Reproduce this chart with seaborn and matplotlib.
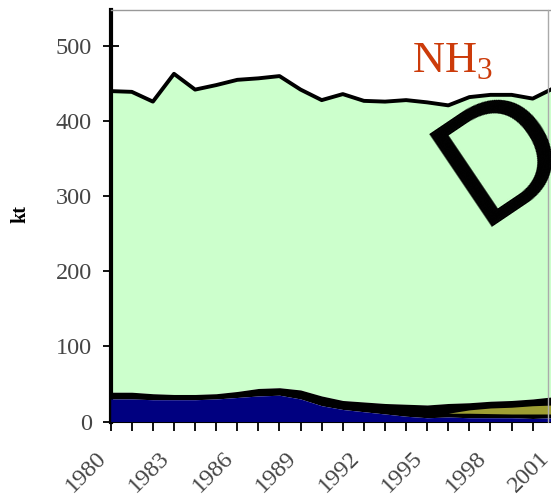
import matplotlib
matplotlib.use('Agg')
import matplotlib.pyplot as plt
import matplotlib.transforms as mtrans
import seaborn as sns
from matplotlib.lines import Line2D

# ---- data ----
years = list(range(1980, 2002))
total = [440, 439, 426, 463, 442, 448, 455, 457, 460, 442, 428,
         436, 427, 426, 428, 425, 421, 432, 435, 435, 430, 444]
band_top = [39, 39, 37, 36, 36, 37, 40, 44, 45, 42, 34,
            28, 26, 24, 23, 22, 24, 25, 27, 28, 30, 33]
navy_top = [30, 30, 29, 29, 29, 30, 32, 34, 35, 30, 21,
            16, 13, 10, 7, 5, 6, 5, 5, 5, 4, 5]
olive_years = [1996, 1997, 1998, 1999, 2000, 2001]
olive_lo = [11, 11, 10.5, 10, 10, 10]
olive_hi = [11, 15.5, 18, 19, 21, 22]
ytick_vals = [0, 100, 200, 300, 400, 500]
xlabel_years = [1980, 1983, 1986, 1989, 1992, 1995, 1998, 2001]

GREEN = '#CCFFCC'
NAVY = '#000080'
OLIVE = '#9E9E33'
TICKCOL = '#454545'

sns.set_theme(style='white')
plt.rcParams['font.family'] = ['Liberation Serif', 'DejaVu Serif']
plt.rcParams['mathtext.fontset'] = 'custom'
plt.rcParams['mathtext.rm'] = 'Liberation Serif'

W, H = 551, 503
fig = plt.figure(figsize=(W / 100, H / 100), dpi=100)
ax_left = 110.7 / W
ax_bottom = (H - 421.5) / H
ax_top = (H - 10) / H
ax_right = (110.7 + 21 * 21.1) / W
ax = fig.add_axes([ax_left, ax_bottom, ax_right - ax_left, ax_top - ax_bottom])

ax.fill_between(years, band_top, total, color=GREEN, linewidth=0, zorder=1)
ax.fill_between(years, navy_top, band_top, color='black', linewidth=0, zorder=2)
ax.fill_between(years, 0, navy_top, color=NAVY, linewidth=0, zorder=3)
ax.fill_between(olive_years, olive_lo, olive_hi, color=OLIVE, linewidth=0, zorder=4)
sns.lineplot(x=years, y=total, color='black', linewidth=2.8, ax=ax, zorder=5)

ax.set_xlim(1980, 2001)
ax.set_ylim(0, 548)
ax.set_xticks(years)
ax.set_xticklabels([str(y) if y in xlabel_years else '' for y in years],
                   rotation=45, ha='right', rotation_mode='anchor')
ax.set_yticks(ytick_vals)
ax.set_yticklabels([str(v) for v in ytick_vals])
ax.tick_params(axis='y', direction='inout', length=12, width=1.3, color='black',
               labelsize=17.5, labelcolor=TICKCOL, pad=7.5, left=True)
ax.tick_params(axis='x', direction='out', length=6.5, width=1.3, color='black',
               labelsize=17.5, labelcolor=TICKCOL, pad=8, bottom=True)
offset = mtrans.ScaledTranslation(-15 / 100, -6 / 100, fig.dpi_scale_trans)
for lab in ax.get_xticklabels():
    lab.set_transform(lab.get_transform() + offset)
ax.set_xlabel('')
ax.set_ylabel('')

ax.spines['right'].set_visible(False)
ax.spines['left'].set_linewidth(3)
ax.spines['left'].set_color('black')
ax.spines['bottom'].set_linewidth(1.5)
ax.spines['bottom'].set_color('black')
ax.spines['top'].set_linewidth(1.0)
ax.spines['top'].set_color('#999999')

# right frame edge of the plot area
fig.add_artist(Line2D([548 / W, 548 / W], [ax_bottom, ax_top], color='#aaaaaa', linewidth=1.0))

fig.text(20 / W, (H - 214) / H, 'kt', rotation=90, ha='center', va='center',
         fontsize=14.5, fontweight='bold', color='black')
fig.text(412 / W, (H - 73) / H, r'NH$_{\mathregular{3}}$', ha='left', va='baseline',
         fontsize=32, color='#CC3B0A')
fig.text(478 / W, (H - 227) / H, 'D', rotation=34, rotation_mode='anchor',
         ha='left', va='baseline', fontsize=118, color='black',
         family='Liberation Sans', zorder=10)

fig.savefig('out.png', dpi=100)
